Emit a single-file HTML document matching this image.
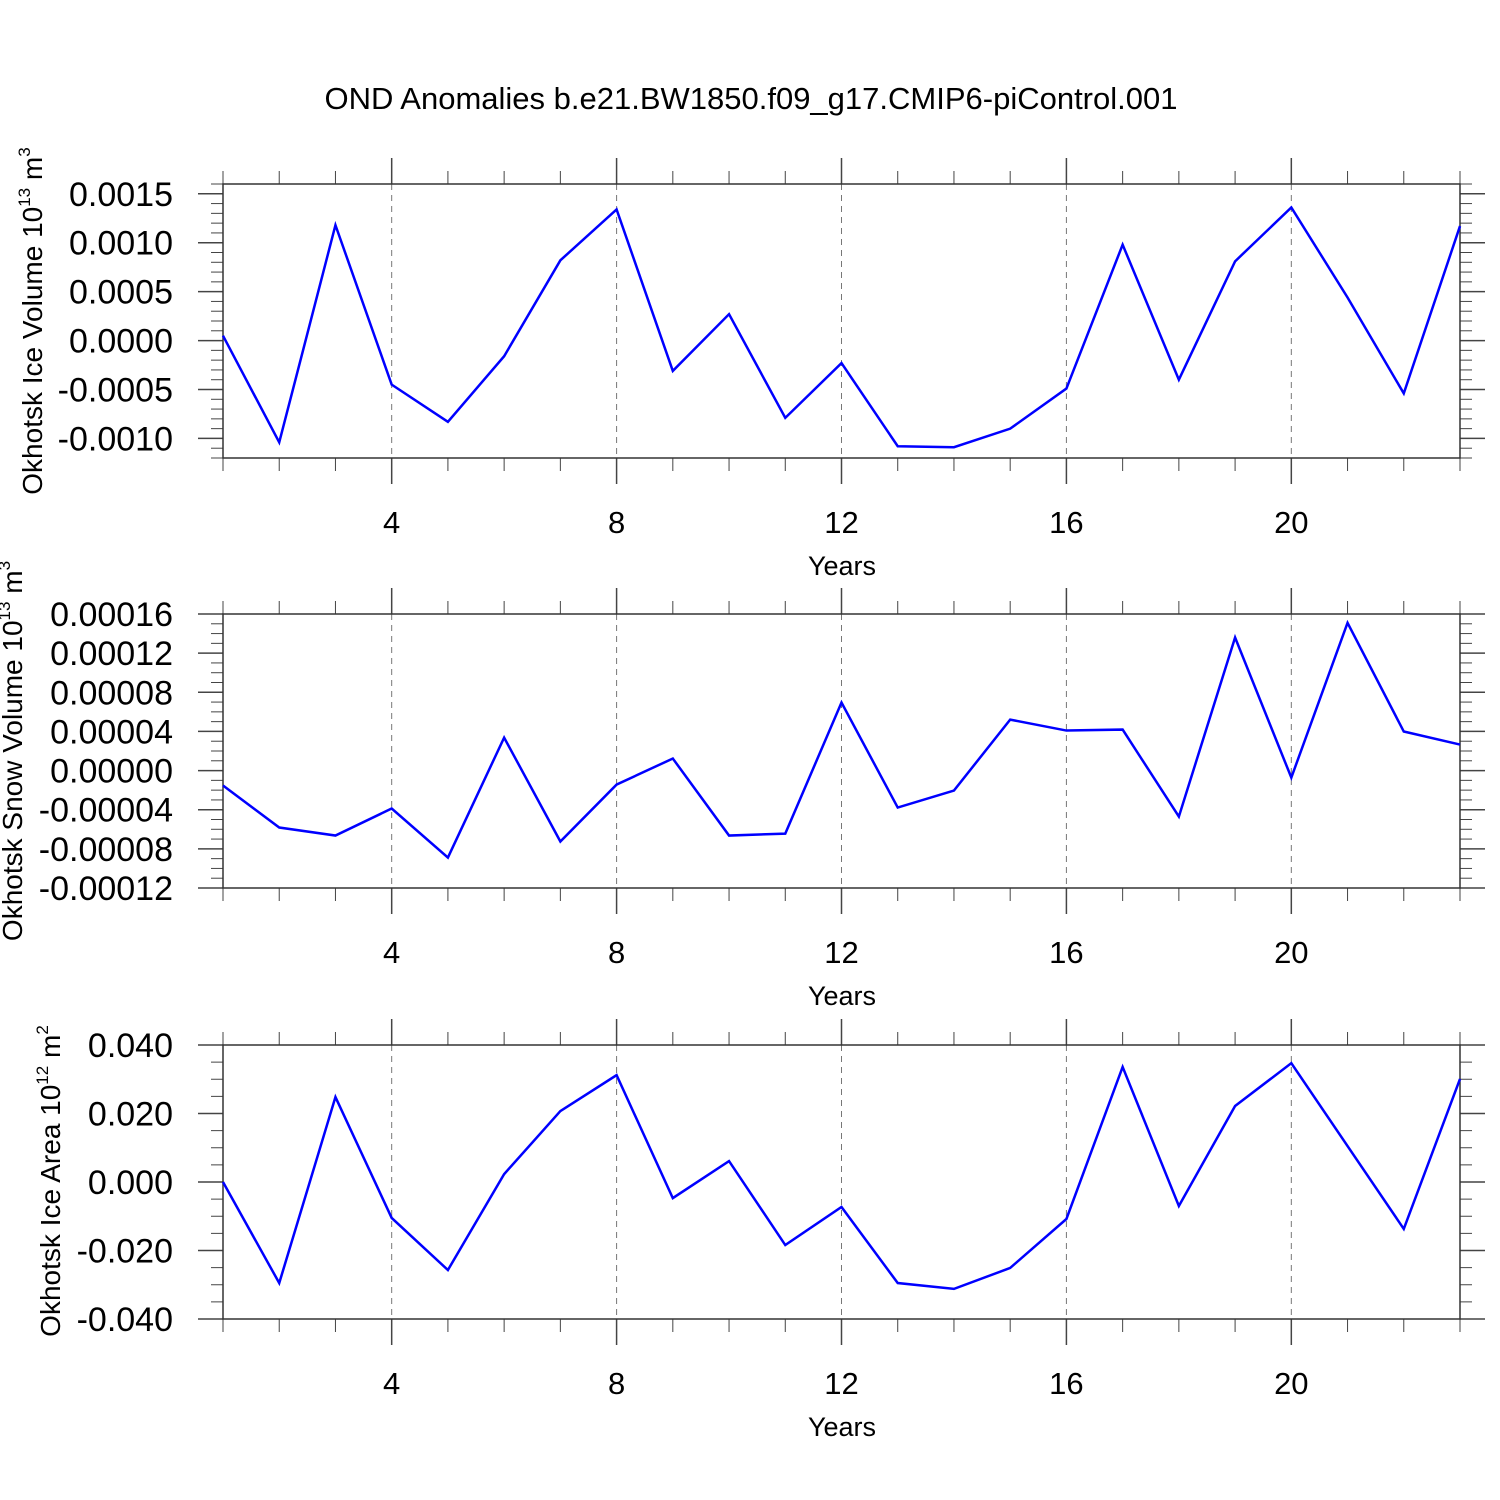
<!DOCTYPE html>
<html><head><meta charset="utf-8"><style>
html,body{margin:0;padding:0;background:#fff}
svg{display:block}
text{font-family:"Liberation Sans",Arial,sans-serif;fill:#000}
</style></head><body>
<svg id="chart" width="1500" height="1500" viewBox="0 0 1500 1500" xmlns="http://www.w3.org/2000/svg">
<text x="751" y="109" font-size="31" text-anchor="middle">OND Anomalies b.e21.BW1850.f09_g17.CMIP6-piControl.001</text>
</svg>
<script>
const years = [1,2,3,4,5,6,7,8,9,10,11,12,13,14,15,16,17,18,19,20,21,22,23];
const iceVolume = [0.00005,-0.00104,0.00118,-0.00045,-0.00083,-0.00016,0.00082,0.00134,-0.00031,0.00027,-0.00079,-0.00023,-0.00108,-0.00109,-0.0009,-0.00049,0.00098,-0.0004,0.00081,0.00136,0.00044,-0.00054,0.00117];
const snowVolume = [-0.0000153,-0.0000582,-0.0000664,-0.0000388,-0.0000889,0.0000337,-0.0000725,-0.0000143,0.0000123,-0.0000664,-0.0000644,0.0000695,-0.0000378,-0.0000204,0.0000521,0.0000409,0.0000419,-0.000047,0.000136,-0.0000072,0.000151,0.0000399,0.0000266];
const iceArea = [0,-0.0295,0.0248,-0.0105,-0.0257,0.0023,0.0207,0.0312,-0.0047,0.0061,-0.0184,-0.0073,-0.0295,-0.0312,-0.0251,-0.0108,0.0336,-0.007,0.0222,0.0347,0.0105,-0.0137,0.0301];
const xTickLabels = ['4','8','12','16','20'];
const iceVolTicks = ['0.0015','0.0010','0.0005','0.0000','-0.0005','-0.0010'];
const snowTicks = ['0.00016','0.00012','0.00008','0.00004','0.00000','-0.00004','-0.00008','-0.00012'];
const areaTicks = ['0.040','0.020','0.000','-0.020','-0.040'];

const NS='http://www.w3.org/2000/svg';
const svg=document.getElementById('chart');
function mk(tag,attrs,parent){const e=document.createElementNS(NS,tag);for(const k in attrs)e.setAttribute(k,attrs[k]);(parent||svg).appendChild(e);return e;}
const L=223,R=1460,X0=1,X1=23;
function xs(v){return L+(v-X0)/(X1-X0)*(R-L);}

function panel(cfg){
  const g=mk('g',{});
  
  
  const T=cfg.top,B=cfg.top+274;
  const ys=v=>T+(cfg.max-v)/(cfg.max-cfg.min)*(B-T);
  xTickLabels.forEach(t=>{const x=xs(+t);
    const l=mk('line',{x1:x,x2:x,y1:T,y2:B,stroke:'#777','stroke-width':1,'stroke-dasharray':'6,5'},g);
    
    
  });
  for(let yv=X0;yv<=X1;yv++){const x=xs(yv);const maj=yv%4===0;const len=maj?26:13;
    mk('line',{x1:x,x2:x,y1:T-len,y2:T,stroke:'#444','stroke-width':maj?1.5:1},g);
    mk('line',{x1:x,x2:x,y1:B,y2:B+len,stroke:'#444','stroke-width':maj?1.5:1},g);
  }
  xTickLabels.forEach(t=>{const tx=mk('text',{x:xs(+t),y:B+75,'font-size':31,'text-anchor':'middle'},g);tx.textContent=t;
    
    });
  const n=Math.round((cfg.max-cfg.min)/cfg.minor);
  for(let i=0;i<=n;i++){const v=cfg.min+i*cfg.minor;const y=ys(v);
    const r=(v-cfg.majStart)/cfg.major;const maj=Math.abs(r-Math.round(r))<1e-6 && v<=cfg.majEnd+1e-12 && v>=cfg.majStart-1e-12;
    const len=maj?25:12;
    mk('line',{x1:L-len,x2:L,y1:y,y2:y,stroke:'#444','stroke-width':maj?1.5:1},g);
    mk('line',{x1:R,x2:R+len,y1:y,y2:y,stroke:'#444','stroke-width':maj?1.5:1},g);
  }
  cfg.ticks.forEach(t=>{const tx=mk('text',{x:L-50,y:ys(parseFloat(t))+12,'font-size':34,'text-anchor':'end'},g);tx.textContent=t;
    
    });
  const fr=mk('rect',{x:L,y:T,width:R-L,height:B-T,fill:'none',stroke:'#333','stroke-width':1.5},g);
  
  
  const pts=years.map((yr,i)=>xs(yr)+','+ys(cfg.data[i])).join(' ');
  const pl=mk('polyline',{points:pts,fill:'none',stroke:'#0000ff','stroke-width':2.5,'stroke-linejoin':'miter'},g);
  
  
  const xt=mk('text',{x:842,y:B+117,'font-size':27,'text-anchor':'middle'},g);xt.textContent='Years';
  
  
  const yt=mk('text',{transform:`translate(${cfg.ytx},${cfg.yty}) rotate(-90)`,'font-size':28,'text-anchor':'middle'},g);
  
  
  const a=mk('tspan',{},yt);a.textContent=cfg.ytitle+' 10';
  const b=mk('tspan',{dy:-12,'font-size':17},yt);b.textContent=cfg.exp;
  const c=mk('tspan',{dy:12},yt);c.textContent=' m';
  const d=mk('tspan',{dy:-12,'font-size':17},yt);d.textContent=cfg.pow;
}
panel({name:'ice-volume-panel',top:184,min:-0.0012,max:0.0016,minor:0.0001,major:0.0005,majStart:-0.001,majEnd:0.0015,ticks:iceVolTicks,data:iceVolume,ytitle:'Okhotsk Ice Volume',exp:'13',pow:'3',ytx:42,yty:321});
panel({name:'snow-volume-panel',top:614,min:-0.00012,max:0.00016,minor:0.00001,major:0.00004,majStart:-0.00012,majEnd:0.00016,ticks:snowTicks,data:snowVolume,ytitle:'Okhotsk Snow Volume',exp:'13',pow:'3',ytx:22,yty:751});
panel({name:'ice-area-panel',top:1045,min:-0.04,max:0.04,minor:0.005,major:0.02,majStart:-0.04,majEnd:0.04,ticks:areaTicks,data:iceArea,ytitle:'Okhotsk Ice Area',exp:'12',pow:'2',ytx:60,yty:1181});
</script>
</body></html>
